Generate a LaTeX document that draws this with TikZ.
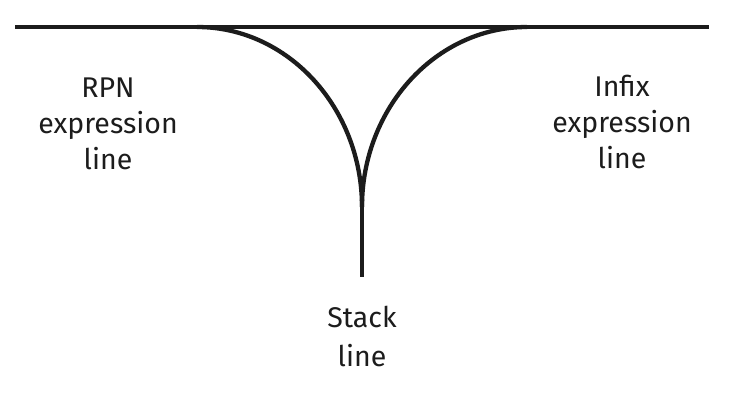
\documentclass[tikz,border=0pt]{standalone}
\usepackage{fontspec}
\setmainfont{Fira Sans}
\definecolor{ink}{HTML}{1C1C1C}
\begin{document}
\begin{tikzpicture}[x=1pt,y=-1pt,
  rail/.style={draw=ink,line width=4.3pt},
  lbl/.style={text=ink,align=center,inner sep=0pt,anchor=north,font=\fontsize{28.5}{36}\selectfont}]
\useasboundingbox (0,0) rectangle (750,404);
\coordinate (L) at (15,27);
\coordinate (R) at (709,27);
\coordinate (A) at (197,27);
\coordinate (B) at (527,27);
\coordinate (J) at (362,207);
\coordinate (E) at (362,277);
\draw[rail] (L) -- (R);
\draw[rail] (A) .. controls (288,27) and (362,108) .. (J);
\draw[rail] (B) .. controls (436,27) and (362,108) .. (J);
\draw[rail] (J) -- (E);
\node[lbl] (rpn) at (108,78) {RPN\\expression\\line};
\node[lbl] (infix) at (622,75) {Infix\\expression\\line};
\node[lbl,font=\fontsize{28.5}{39}\selectfont] (stack) at (362,306) {Stack\\line};
\end{tikzpicture}
\end{document}
